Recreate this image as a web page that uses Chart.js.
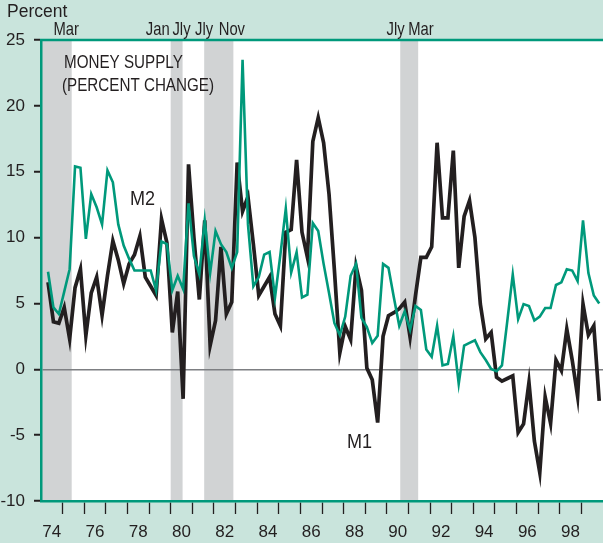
<!DOCTYPE html>
<html>
<head>
<meta charset="utf-8">
<script src="https://cdn.jsdelivr.net/npm/chart.js@4.4.1/dist/chart.umd.min.js"></script>
<style>
  html, body { margin: 0; padding: 0; background: #c9e4dc; }
  #wrap { width: 603px; height: 543px; }
</style>
</head>
<body>
<div id="wrap"><canvas id="myChart" width="603" height="543"></canvas></div>
<script>
// quarterly growth, percent, 1974Q1 .. 1999Q3
const m1 = [6.6, 3.6, 3.5, 4.7, 2.3, 6.2, 7.6, 2.55, 5.8, 7.0,
    4.1, 7.1, 9.75, 8.3, 6.5, 8.0, 8.7, 10.1, 7.0, 6.3,
    5.6, 11.4, 9.6, 2.8, 5.9, -2.24, 15.56, 10.0, 5.3, 11.3,
    1.8, 3.7, 9.3, 4.2, 5.1, 15.7, 12.0, 13.1, 9.5, 5.6,
    6.3, 7.0, 4.2, 3.3, 10.4, 10.6, 15.9, 10.4, 8.5, 17.3,
    19.1, 17.2, 13.3, 7.5, 1.25, 3.25, 2.25, 7.8, 6.0, 0.1,
    -0.8, -4.05, 2.5, 4.07, 4.3, 4.6, 5.1, 2.45, 5.6, 8.5,
    8.5, 9.3, 17.2, 11.5, 11.5, 16.6, 7.7, 11.6, 12.8, 10.0,
    4.95, 2.3, 2.8, -0.6, -0.9, -0.7, -0.5, -4.8, -4.15, -1.0,
    -5.45, -7.85, -2.1, -4.1, 0.7, -0.1, 3.06, 0.7, -2.05, 4.95,
    2.6, 3.3, -2.4];
const m2 = [7.4, 4.7, 4.2, 5.9, 7.6, 15.4, 15.3, 9.9, 13.3, 12.3,
    11.0, 15.1, 14.2, 11.0, 9.4, 8.4, 7.5, 7.5, 7.5, 7.5,
    6.0, 9.7, 9.5, 6.0, 7.1, 6.1, 12.6, 8.6, 7.2, 11.3,
    7.3, 10.5, 9.5, 8.9, 7.7, 8.9, 23.5, 11.0, 6.3, 7.0,
    8.7, 8.9, 5.45, 8.7, 12.2, 7.35, 8.9, 5.45, 5.66, 11.1,
    10.5, 8.0, 5.8, 3.5, 2.6, 4.0, 7.1, 8.0, 3.9, 3.2,
    2.0, 2.55, 8.0, 7.7, 5.45, 3.3, 4.4, 3.0, 4.8, 4.5,
    1.5, 0.95, 3.3, 0.3, 0.4, 2.5, -1.1, 1.8, 2.0, 2.2,
    1.3, 0.7, 0.03, -0.15, 0.3, 3.7, 7.2, 3.8, 4.95, 4.8,
    3.7, 4.0, 4.65, 4.65, 6.4, 6.6, 7.6, 7.5, 6.7, 11.3,
    7.3, 5.6, 5.0];
const firstYear = 1974;
const lastYear = 2000;

// recessions (decimal years) and the peak/trough months written above them
const recessionStart = [1973.83, 1980.0, 1981.55, 1990.62];
const recessionEnd = [1975.42, 1980.55, 1982.9, 1991.45];
const turnLabels = ['Mar', 'Jan', 'Jly', 'Jly', 'Nov', 'Jly', 'Mar'];
const turnDates = [1975.17, 1980.0, 1980.5, 1981.5, 1982.83, 1990.5, 1991.17];

const INK = '#231f20';
const GREEN = '#00997b';
const MINT = '#c9e4dc';
const FONT = '"Liberation Sans", Arial, sans-serif';

const quarterX = m1.map((_, i) => firstYear + (i + 1.3) / 4);
const toPoints = (vals) => vals.map((v, i) => ({x: quarterX[i], y: v}));

// narrow lettering for the labels inside and above the plot
function narrowText(ctx, text, x, y, size, squeeze, align) {
    ctx.save();
    ctx.font = size + 'px ' + FONT;
    const w = ctx.measureText(text).width * squeeze;
    let left = x;
    if (align === 'center') left = x - w / 2;
    if (align === 'right') left = x - w;
    ctx.translate(left, y);
    ctx.scale(squeeze, 1);
    ctx.textAlign = 'left';
    ctx.textBaseline = 'alphabetic';
    ctx.fillStyle = INK;
    ctx.fillText(text, 0, 0);
    ctx.restore();
}

const backdrop = {
    id: 'backdrop',
    beforeDraw(chart) {
        const {ctx, chartArea: a, scales: {x}} = chart;
        ctx.save();
        ctx.fillStyle = MINT;
        ctx.fillRect(0, 0, chart.width, chart.height);
        ctx.fillStyle = '#ffffff';
        ctx.fillRect(a.left, a.top, a.right - a.left, a.bottom - a.top);
        ctx.fillStyle = '#d1d3d4';
        recessionStart.forEach((s, i) => {
            const x0 = Math.max(x.getPixelForValue(s), a.left);
            const x1 = x.getPixelForValue(recessionEnd[i]);
            ctx.fillRect(x0, a.top, x1 - x0, a.bottom - a.top);
        });
        ctx.restore();
    },
    afterDraw(chart) {
        const {ctx, chartArea: a, scales: {x}} = chart;
        ctx.save();
        // top frame line
        ctx.strokeStyle = GREEN;
        ctx.lineWidth = 2.5;
        ctx.beginPath();
        ctx.moveTo(a.left - 1, a.top);
        ctx.lineTo(a.right, a.top);
        ctx.stroke();

        ctx.fillStyle = INK;
        ctx.font = '17.5px ' + FONT;
        ctx.textAlign = 'left';
        ctx.textBaseline = 'alphabetic';
        ctx.fillText('Percent', 7, 17);

        const aligns = ['center', 'right', 'center', 'center', 'center', 'right', 'left'];
        const nudge = [0, -1, 0, 1, 0, 7, -4];
        turnLabels.forEach((t, i) => {
            narrowText(ctx, t, x.getPixelForValue(turnDates[i]) + nudge[i], 35, 18.5, 0.8, aligns[i]);
        });

        narrowText(ctx, 'MONEY SUPPLY', 64, 68, 19, 0.8, 'left');
        narrowText(ctx, '(PERCENT CHANGE)', 62, 91, 19, 0.8, 'left');
        narrowText(ctx, 'M2', 130, 205, 21, 0.86, 'left');
        narrowText(ctx, 'M1', 347, 448, 21, 0.86, 'left');
        ctx.restore();
    }
};

new Chart(document.getElementById('myChart'), {
    type: 'line',
    data: {
        datasets: [
            {
                label: 'M2',
                data: toPoints(m2),
                borderColor: GREEN,
                borderWidth: 2.6,
                pointRadius: 0,
                tension: 0,
                borderJoinStyle: 'miter'
            },
            {
                label: 'M1',
                data: toPoints(m1),
                borderColor: INK,
                borderWidth: 3.7,
                pointRadius: 0,
                tension: 0,
                borderJoinStyle: 'miter'
            }
        ]
    },
    options: {
        responsive: false,
        animation: false,
        events: [],
        devicePixelRatio: 1,
        layout: {padding: {top: 40, right: 0, left: 0, bottom: 0}},
        plugins: {
            legend: {display: false},
            tooltip: {enabled: false}
        },
        scales: {
            x: {
                type: 'linear',
                min: firstYear,
                max: lastYear,
                afterFit: (s) => {
                    s.height = 42;
                    // plot runs right up to the canvas edge
                    s.paddingLeft = 0;
                    s.paddingRight = 0;
                },
                border: {color: GREEN, width: 2.5},
                grid: {
                    drawOnChartArea: false,
                    tickLength: 13,
                    tickWidth: 1.3,
                    tickColor: (c) => (c.tick.value === firstYear || c.tick.value === lastYear) ? 'rgba(0,0,0,0)' : INK
                },
                ticks: {
                    stepSize: 1,
                    autoSkip: false,
                    maxRotation: 0,
                    labelOffset: 10.8,
                    padding: 8,
                    color: INK,
                    font: {family: FONT, size: 17},
                    callback: (v) => (v % 2 === 0 && v < lastYear) ? String(v).slice(2) : ''
                }
            },
            y: {
                min: -10,
                max: 25,
                afterFit: (s) => { s.width = 41; },
                border: {color: GREEN, width: 2.5},
                grid: {
                    color: (c) => c.tick.value === 0 ? '#7d7f82' : 'rgba(0,0,0,0)',
                    lineWidth: 1.5,
                    tickLength: 7,
                    tickWidth: 2,
                    tickColor: INK
                },
                ticks: {
                    stepSize: 5,
                    padding: 9,
                    color: INK,
                    font: {family: FONT, size: 17}
                }
            }
        }
    },
    plugins: [backdrop]
});
</script>
</body>
</html>
